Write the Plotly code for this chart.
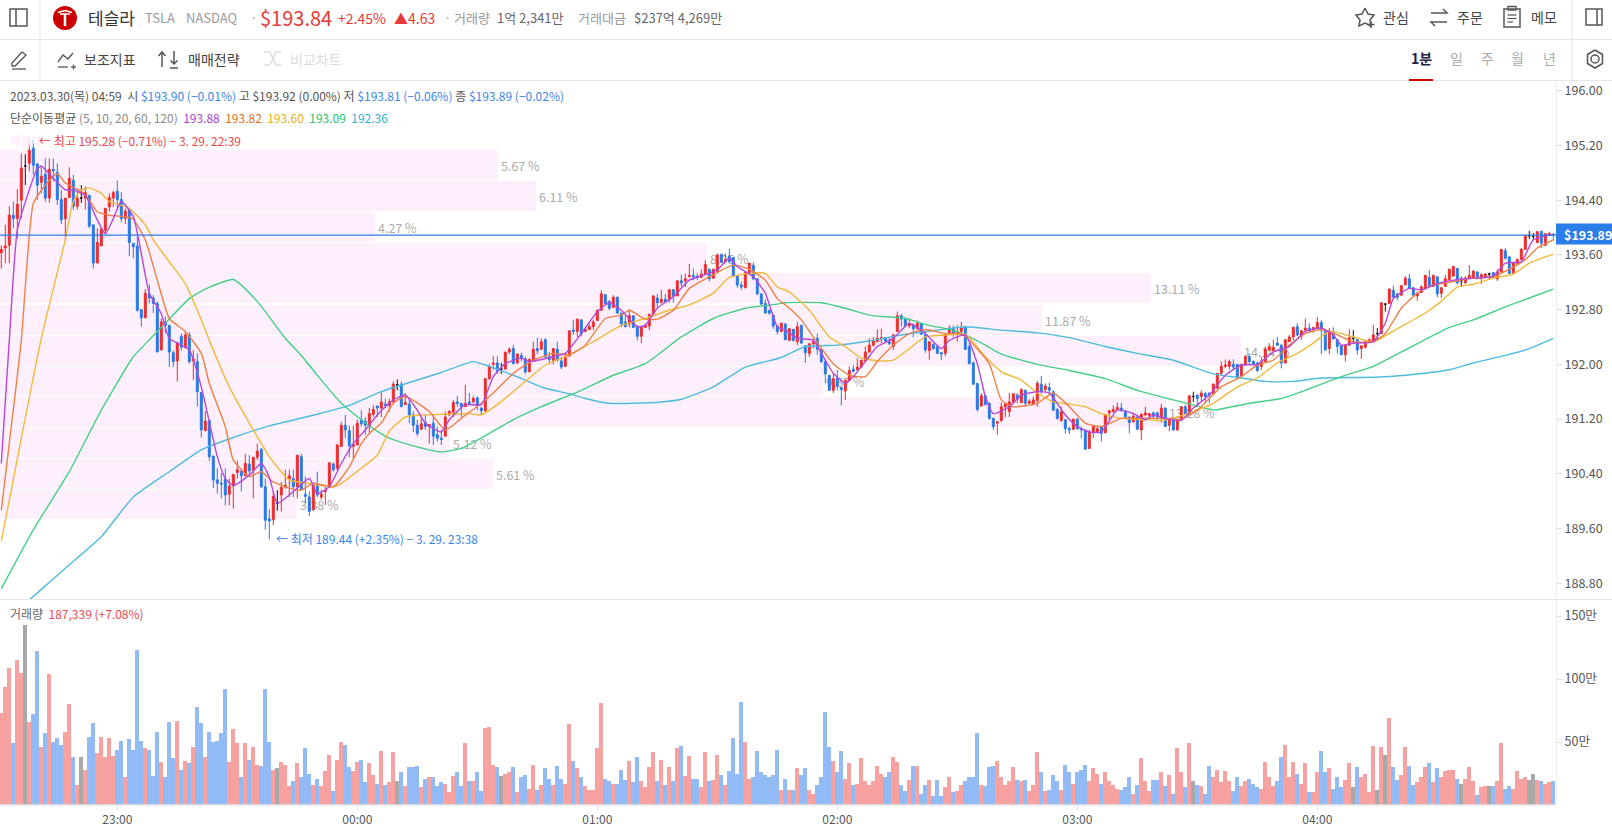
import pandas as pd
import plotly.graph_objects as go

FONT = "Noto Sans CJK KR"
W, H = 1612, 831
AXIS_X = 1556

# 1분봉 시/고/저/종, 22:31 ~ 04:59
opens = [193.63,193.70,193.74,194.18,194.13,194.40,194.90,194.94,195.16,194.93,
194.66,194.78,194.43,194.85,194.81,194.41,194.13,194.44,194.69,194.31,
194.43,194.43,194.47,194.04,193.48,193.73,193.96,194.30,194.43,194.53,
194.41,194.13,194.27,193.77,193.73,192.80,192.68,193.03,192.97,192.89,
192.21,192.62,192.57,192.17,192.05,192.41,192.25,192.43,192.05,192.04,
191.59,191.03,191.18,190.66,190.31,190.26,190.32,190.10,190.22,190.42,
190.44,190.37,190.54,190.45,190.64,190.76,190.21,189.74,189.73,189.97,
190.09,190.21,190.32,190.33,190.21,190.65,190.10,190.06,189.88,190.23,
190.06,190.14,190.20,190.54,190.48,190.80,191.11,191.03,190.80,190.82,
191.19,191.17,191.10,191.27,191.39,191.36,191.42,191.40,191.45,191.70,
191.71,191.41,191.42,191.26,191.11,191.05,191.15,191.09,191.14,190.97,
190.92,190.95,191.26,191.30,191.45,191.43,191.38,191.45,191.45,191.51,
191.36,191.32,191.79,192.00,192.02,191.93,191.93,192.18,192.23,192.02,
192.13,192.08,191.89,192.06,192.23,192.22,192.36,192.11,192.06,192.22,
192.05,191.97,192.12,192.50,192.48,192.65,192.48,192.51,192.55,192.64,
192.79,193.02,192.92,192.83,192.98,192.75,192.62,192.59,192.71,192.55,
192.41,192.54,192.56,192.74,192.97,192.90,192.95,192.95,193.09,193.00,
193.22,193.22,193.28,193.30,193.29,193.27,193.32,193.39,193.26,193.36,
193.61,193.50,193.58,193.56,193.29,193.16,193.12,193.33,193.45,193.25,
193.03,192.89,192.79,192.72,192.56,192.48,192.59,192.35,192.51,192.33,
192.57,192.27,192.16,192.30,192.38,192.22,192.04,191.84,191.62,191.80,
191.66,191.61,191.77,191.93,191.92,191.96,192.05,192.18,192.28,192.33,
192.37,192.39,192.33,192.26,192.48,192.71,192.66,192.56,192.57,192.52,
192.59,192.43,192.20,192.29,192.26,192.17,192.16,192.45,192.52,192.44,
192.48,192.55,192.26,192.02,191.72,191.39,191.54,191.43,191.21,191.14,
191.18,191.38,191.31,191.45,191.55,191.44,191.62,191.43,191.42,191.47,
191.71,191.63,191.66,191.60,191.34,191.18,191.19,191.06,191.05,191.20,
191.06,191.04,190.77,191.01,191.01,191.09,191.00,191.29,191.31,191.34,
191.36,191.31,191.23,191.16,191.23,191.04,191.26,191.25,191.29,191.29,
191.21,191.36,191.11,191.21,191.04,191.19,191.38,191.27,191.53,191.55,
191.53,191.57,191.58,191.57,191.65,191.87,191.97,191.97,192.00,192.00,
191.83,191.99,192.11,192.04,192.02,191.97,192.04,192.21,192.20,192.31,
192.28,192.02,192.33,192.40,192.55,192.41,192.50,192.53,192.51,192.53,
192.61,192.49,192.23,192.48,192.36,192.27,192.14,192.28,192.38,192.36,
192.23,192.25,192.32,192.33,192.45,192.45,192.88,192.89,193.08,193.03,
193.01,193.16,193.25,193.12,193.00,193.05,193.11,193.27,193.14,193.28,
193.04,193.14,193.24,193.29,193.40,193.22,193.19,193.26,193.26,193.35,
193.26,193.28,193.32,193.34,193.25,193.35,193.66,193.57,193.33,193.47,
193.53,193.68,193.88,193.87,193.78,193.94,193.74,193.89,193.90]

highs = [193.74,194.04,194.31,194.38,194.56,195.08,195.07,195.24,195.28,194.94,
194.89,195.01,195.01,195.01,194.94,194.55,194.43,194.88,194.77,194.55,
194.62,194.60,194.47,194.04,193.99,193.98,194.28,194.50,194.54,194.69,
194.52,194.28,194.28,193.77,193.87,192.80,193.10,193.17,193.01,192.92,
192.67,192.70,192.57,192.20,192.33,192.45,192.47,192.47,192.21,192.16,
191.59,191.32,191.18,190.66,190.48,190.41,190.48,190.33,190.39,190.59,
190.44,190.69,190.67,190.64,190.84,190.77,190.33,189.88,190.14,190.16,
190.28,190.46,190.46,190.46,190.67,190.69,190.36,190.14,190.28,190.43,
190.17,190.23,190.56,190.57,190.84,191.16,191.26,191.10,191.10,191.19,
191.33,191.23,191.36,191.40,191.40,191.60,191.50,191.50,191.75,191.78,
191.75,191.58,191.50,191.31,191.19,191.23,191.26,191.12,191.26,191.09,
191.04,191.31,191.33,191.48,191.54,191.43,191.70,191.58,191.54,191.53,
191.38,191.79,192.00,192.12,192.12,192.02,192.18,192.25,192.28,192.16,
192.17,192.11,192.09,192.33,192.39,192.38,192.38,192.18,192.23,192.33,
192.11,192.17,192.49,192.65,192.67,192.66,192.53,192.59,192.65,192.80,
193.08,193.02,192.94,193.01,192.99,192.75,192.72,192.80,192.72,192.57,
192.55,192.60,192.74,193.01,193.03,193.09,193.03,193.10,193.10,193.23,
193.31,193.33,193.47,193.40,193.33,193.39,193.52,193.40,193.40,193.62,
193.61,193.62,193.69,193.57,193.29,193.21,193.35,193.48,193.49,193.26,
193.03,192.95,192.80,192.72,192.57,192.61,192.60,192.53,192.52,192.62,
192.58,192.28,192.31,192.38,192.45,192.22,192.04,191.84,191.87,191.92,
191.66,191.77,191.97,191.99,192.09,192.06,192.26,192.38,192.40,192.51,
192.52,192.40,192.40,192.45,192.77,192.74,192.69,192.67,192.60,192.64,
192.60,192.48,192.33,192.31,192.26,192.18,192.44,192.57,192.57,192.57,
192.62,192.56,192.33,192.04,191.72,191.58,191.55,191.44,191.21,191.16,
191.44,191.43,191.58,191.57,191.58,191.65,191.63,191.49,191.53,191.76,
191.83,191.72,191.73,191.62,191.36,191.38,191.19,191.09,191.20,191.21,
191.09,191.05,191.04,191.10,191.09,191.09,191.27,191.33,191.40,191.44,
191.44,191.33,191.23,191.28,191.24,191.28,191.38,191.29,191.31,191.31,
191.42,191.37,191.20,191.22,191.20,191.39,191.41,191.54,191.60,191.56,
191.62,191.60,191.59,191.72,191.87,192.04,192.07,192.07,192.07,192.00,
192.00,192.14,192.16,192.06,192.04,192.11,192.26,192.31,192.36,192.40,
192.30,192.37,192.43,192.55,192.60,192.50,192.67,192.60,192.54,192.69,
192.65,192.51,192.53,192.54,192.37,192.28,192.28,192.51,192.50,192.37,
192.28,192.36,192.38,192.58,192.53,192.90,192.89,193.11,193.15,193.04,
193.16,193.29,193.32,193.13,193.05,193.16,193.31,193.38,193.31,193.29,
193.13,193.31,193.40,193.44,193.40,193.28,193.29,193.45,193.38,193.36,
193.33,193.33,193.34,193.35,193.39,193.68,193.70,193.58,193.50,193.55,
193.70,193.88,193.95,193.92,193.94,193.96,193.92,193.94,193.92]

lows = [193.40,193.48,193.48,193.99,193.84,194.13,194.62,194.82,194.77,194.40,
194.50,194.38,194.36,194.67,194.33,194.05,193.81,194.43,194.26,194.26,
194.36,194.26,193.99,193.40,193.48,193.73,193.91,194.23,194.30,194.28,
194.08,194.05,193.58,193.55,192.77,192.55,192.68,192.89,192.75,192.18,
192.21,192.45,191.96,191.96,191.75,192.20,192.23,192.01,191.77,191.38,
190.93,191.03,190.59,190.19,190.11,190.04,189.94,189.94,189.89,190.33,
190.14,190.37,190.36,190.04,190.60,190.19,189.58,189.44,189.65,189.86,
189.85,190.18,190.06,190.06,190.04,190.17,189.97,189.78,189.85,190.06,
190.02,189.94,190.20,190.43,190.45,190.80,190.92,190.64,190.62,190.82,
191.09,190.97,190.98,191.23,191.23,191.23,191.36,191.31,191.43,191.62,
191.38,191.41,191.14,191.01,190.95,191.04,191.04,190.84,190.82,190.87,
190.82,190.94,191.24,191.23,191.38,191.23,191.38,191.40,191.43,191.33,
191.26,191.31,191.77,191.92,191.86,191.86,191.92,192.15,192.00,192.01,
192.04,191.86,191.89,192.06,192.15,192.21,192.10,192.00,192.00,192.04,
191.93,191.97,192.12,192.43,192.40,192.41,192.48,192.50,192.50,192.64,
192.79,192.88,192.79,192.82,192.74,192.54,192.54,192.54,192.54,192.35,
192.31,192.53,192.50,192.74,192.82,192.90,192.90,192.90,192.90,193.00,
193.14,193.13,193.28,193.23,193.23,193.26,193.32,193.21,193.25,193.35,
193.49,193.49,193.49,193.28,193.12,193.09,193.11,193.32,193.23,193.01,
192.87,192.74,192.72,192.52,192.44,192.47,192.36,192.34,192.33,192.28,
192.30,192.02,192.11,192.23,192.14,192.02,191.72,191.61,191.58,191.62,
191.40,191.48,191.75,191.88,191.91,191.94,192.05,192.17,192.26,192.33,
192.31,192.31,192.28,192.21,192.48,192.55,192.54,192.53,192.40,192.51,
192.43,192.17,192.07,192.21,192.15,192.06,192.12,192.44,192.40,192.33,
192.46,192.21,192.00,191.70,191.31,191.38,191.40,191.19,191.04,190.97,
191.16,191.23,191.23,191.43,191.43,191.43,191.38,191.42,191.40,191.38,
191.57,191.60,191.57,191.32,191.19,191.16,190.99,190.98,191.04,191.04,
190.92,190.75,190.76,190.92,191.00,190.87,190.99,191.19,191.29,191.33,
191.31,191.22,190.99,191.15,191.04,190.89,191.24,191.19,191.20,191.18,
191.15,191.09,191.02,191.03,191.03,191.18,191.27,191.27,191.45,191.38,
191.46,191.44,191.43,191.55,191.65,191.84,191.94,191.92,191.92,191.78,
191.82,191.98,191.99,191.99,191.89,191.92,192.03,192.19,192.19,192.27,
191.94,192.01,192.33,192.35,192.41,192.36,192.48,192.48,192.46,192.53,
192.15,192.20,192.15,192.36,192.16,192.14,192.04,192.28,192.30,192.14,
192.08,192.23,192.31,192.33,192.35,192.44,192.77,192.88,192.97,192.94,
193.00,193.16,193.11,193.01,192.93,193.04,193.09,193.11,193.13,192.98,
192.97,193.13,193.23,193.28,193.17,193.13,193.18,193.25,193.25,193.24,
193.17,193.26,193.25,193.25,193.22,193.34,193.53,193.32,193.33,193.45,
193.53,193.68,193.83,193.82,193.77,193.70,193.73,193.88,193.81]

closes = [193.68,193.73,194.18,194.13,194.34,194.87,194.90,195.13,194.91,194.62,
194.75,194.43,194.85,194.83,194.41,194.11,194.43,194.72,194.31,194.43,
194.43,194.51,194.02,193.48,193.78,193.98,194.28,194.44,194.51,194.41,
194.13,194.24,193.78,193.72,192.79,192.68,193.04,192.97,192.89,192.18,
192.62,192.57,192.18,192.04,192.31,192.25,192.43,192.04,192.08,191.60,
191.04,191.17,190.65,190.31,190.26,190.25,190.09,190.22,190.39,190.46,
190.37,190.55,190.44,190.64,190.73,190.21,189.72,189.71,190.07,189.97,
190.20,190.23,190.37,190.21,190.67,190.17,190.07,189.85,190.23,190.09,
190.10,190.16,190.56,190.46,190.82,191.11,191.04,190.81,190.83,191.14,
191.13,191.11,191.28,191.34,191.36,191.45,191.40,191.45,191.71,191.70,
191.38,191.44,191.26,191.11,190.99,191.13,191.09,191.12,190.95,190.92,
190.90,191.23,191.31,191.44,191.43,191.38,191.43,191.43,191.50,191.40,
191.32,191.79,191.97,192.02,191.90,191.93,192.18,192.22,192.01,192.15,
192.09,191.89,192.07,192.22,192.20,192.33,192.11,192.07,192.23,192.06,
191.96,192.11,192.49,192.48,192.66,192.45,192.51,192.55,192.62,192.79,
193.03,192.89,192.82,192.98,192.75,192.59,192.55,192.71,192.54,192.41,
192.54,192.57,192.73,193.00,192.90,192.95,192.91,193.09,193.00,193.22,
193.19,193.25,193.30,193.28,193.27,193.32,193.46,193.25,193.39,193.60,
193.49,193.53,193.50,193.29,193.16,193.13,193.34,193.48,193.25,193.03,
192.88,192.75,192.75,192.56,192.48,192.60,192.36,192.52,192.35,192.55,
192.31,192.17,192.30,192.33,192.22,192.04,191.86,191.62,191.79,191.68,
191.63,191.77,191.91,191.90,191.96,192.06,192.18,192.28,192.34,192.38,
192.39,192.34,192.30,192.43,192.71,192.66,192.56,192.59,192.52,192.60,
192.44,192.21,192.33,192.23,192.16,192.15,192.43,192.53,192.45,192.48,
192.54,192.22,192.01,191.71,191.34,191.54,191.41,191.21,191.09,191.16,
191.38,191.42,191.45,191.57,191.49,191.63,191.43,191.46,191.48,191.72,
191.60,191.68,191.62,191.33,191.21,191.31,191.06,191.04,191.20,191.06,
191.04,190.76,191.01,191.09,191.06,190.99,191.27,191.32,191.34,191.37,
191.32,191.23,191.15,191.24,191.05,191.27,191.29,191.28,191.24,191.23,
191.36,191.09,191.19,191.04,191.19,191.38,191.28,191.54,191.53,191.50,
191.58,191.53,191.55,191.71,191.87,191.97,191.99,192.04,191.96,191.80,
192.00,192.11,192.04,192.00,191.91,192.04,192.22,192.26,192.25,192.28,
192.02,192.36,192.40,192.54,192.43,192.49,192.53,192.49,192.54,192.61,
192.50,192.21,192.49,192.37,192.26,192.14,192.28,192.39,192.38,192.21,
192.27,192.33,192.36,192.43,192.45,192.90,192.88,193.10,192.98,192.98,
193.15,193.26,193.11,193.01,193.04,193.13,193.30,193.15,193.30,193.03,
193.12,193.25,193.39,193.43,193.19,193.22,193.26,193.30,193.36,193.26,
193.31,193.32,193.32,193.27,193.35,193.68,193.55,193.33,193.48,193.53,
193.68,193.88,193.88,193.87,193.94,193.77,193.91,193.91,193.89]

# 거래량 (만 주)
volumes = [73,94,109,49,115,105,143,66,72,122,46,57,104,50,53,48,58,80,38,16,
38,28,54,65,41,54,38,53,39,44,51,22,52,44,123,51,45,44,23,58,
34,22,66,37,67,28,35,33,46,78,65,38,58,50,51,57,92,34,60,49,
22,49,36,46,32,31,92,50,28,29,34,32,15,19,33,22,45,25,16,21,
15,27,40,11,36,50,48,30,27,34,36,18,33,24,17,43,16,18,42,19,
26,15,30,30,31,14,21,22,22,15,18,17,10,23,26,15,49,19,19,26,
11,61,62,32,30,23,25,26,30,10,22,24,13,32,12,16,29,21,16,31,
21,17,64,35,29,22,15,12,12,45,81,21,19,17,17,28,20,35,18,38,
19,14,30,42,19,36,16,30,19,45,47,23,39,21,21,14,42,19,20,40,
24,16,27,53,25,82,50,21,22,43,26,24,22,24,44,12,21,12,12,29,
24,29,12,9,16,22,74,46,35,26,43,21,33,16,17,37,19,16,19,31,
25,22,26,38,34,16,11,20,31,31,9,16,20,7,20,7,14,22,10,11,
16,19,22,22,57,16,15,30,31,35,22,16,19,30,20,19,20,11,16,42,
26,11,12,24,19,12,32,26,17,26,28,32,19,29,25,17,26,19,16,13,
12,14,22,9,16,37,19,11,20,20,26,15,24,9,45,26,14,49,19,16,
15,9,31,22,28,18,27,19,11,22,15,19,21,17,14,13,34,22,15,19,
38,48,22,34,25,17,33,10,10,26,43,26,29,13,22,14,20,33,14,30,
22,25,10,47,12,46,40,69,30,20,24,46,31,16,18,22,30,33,18,29,
22,27,28,28,21,17,21,30,19,8,14,15,15,15,19,49,13,15,13,27,
21,22,20,25,20,19,17,18,19]

# 이동평균선: 눈으로 읽은 지점 (봉 번호, 가격)
ma5_idx = [0,2,4,7,9,10,13,16,18,21,24,26,28,30,33,35,37,40,42,47,50,52,54,56,58,62,65,67,69,72,74,77,79,82,85,88,91,94,
98,101,104,106,110,112,116,120,123,126,130,132,138,141,145,149,152,155,159,161,164,168,172,176,179,182,184,188,191,194,
196,199,203,206,208,211,213,216,219,223,227,231,235,237,241,244,246,248,252,255,259,262,266,269,272,275,279,283,286,288,291,295,298,302,306,310,314,318,322,326,330,333,335,338,343,346,348,352,355,359,363,368,373,376,380,383,388]
ma5_val = [190.55,192.35,193.96,194.55,194.86,194.90,194.72,194.55,194.55,194.47,194.11,193.91,194.13,194.38,194.16,193.62,193.04,192.74,192.38,192.21,191.67,191.16,190.65,190.33,190.23,190.38,190.55,190.35,189.97,190.09,190.19,190.33,190.11,190.21,190.55,190.84,191.04,191.26,
191.48,191.55,191.33,191.14,191.01,191.19,191.41,191.41,191.82,192.01,192.09,192.04,192.11,192.16,192.45,192.77,192.90,192.79,192.55,192.57,192.82,192.99,193.23,193.31,193.38,193.55,193.43,193.28,193.04,192.55,
192.50,192.38,192.35,192.06,191.87,191.72,191.82,192.04,192.26,192.38,192.60,192.45,192.23,192.35,192.43,192.01,191.53,191.28,191.38,191.55,191.60,191.58,191.26,191.09,191.01,191.01,191.33,191.28,191.19,191.26,191.21,191.18,191.36,191.55,191.84,191.99,192.00,192.18,192.26,192.48,192.53,192.43,192.28,192.31,192.33,192.60,192.96,193.11,193.09,193.18,193.23,193.26,193.29,193.48,193.50,193.82,193.90]

ma10_idx = [0,5,8,11,14,16,20,22,24,27,32,33,36,39,42,46,50,52,56,58,62,65,68,72,75,78,83,87,90,92,95,98,101,107,111,115,120,123,128,133,138,142,146,151,155,157,161,164,168,172,178,183,187,191,194,
196,200,203,208,212,216,219,223,227,231,236,240,242,247,250,253,259,263,267,271,275,280,284,290,295,299,305,310,314,318,322,326,330,334,338,343,346,350,354,358,363,368,373,377,381,384,388]
ma10_val = [189.87,192.35,194.35,194.62,194.79,194.65,194.53,194.40,194.23,194.18,194.15,194.12,193.82,193.23,192.67,192.48,192.16,191.72,191.09,190.60,190.36,190.43,190.28,190.19,190.16,190.26,190.21,190.50,190.84,190.99,191.14,191.43,191.53,191.31,191.04,191.21,191.43,191.58,191.87,192.06,192.16,192.14,192.28,192.67,192.72,192.79,192.66,192.66,192.79,193.11,193.31,193.45,193.39,193.23,192.96,
192.87,192.65,192.40,192.01,191.84,191.82,192.04,192.28,192.45,192.51,192.45,192.45,192.35,192.01,191.48,191.38,191.43,191.58,191.38,191.14,191.09,191.21,191.21,191.21,191.20,191.33,191.67,191.82,191.99,192.06,192.28,192.45,192.51,192.43,192.33,192.33,192.45,192.82,193.04,193.16,193.21,193.26,193.28,193.39,193.53,193.70,193.82]

ma20_idx = [0,10,16,18,20,22,25,27,32,36,38,42,46,50,52,57,63,67,72,78,83,85,90,94,97,101,105,111,117,120,124,131,136,141,148,155,161,167,172,178,182,187,191,194,
197,202,207,211,215,220,223,227,231,237,241,246,250,255,259,263,267,271,275,280,286,290,294,299,303,309,314,319,324,328,332,338,343,349,356,360,364,368,373,378,382,388]
ma20_val = [189.41,192.38,193.82,194.38,194.55,194.58,194.50,194.38,194.28,194.04,193.82,193.50,193.18,192.65,192.35,191.67,191.04,190.65,190.31,190.25,190.21,190.26,190.48,190.67,191.02,191.23,191.26,191.27,191.28,191.26,191.41,191.75,191.99,192.11,192.33,192.57,192.67,192.79,192.87,193.04,193.27,193.33,193.33,193.13,
193.06,192.79,192.40,192.26,192.09,192.05,192.06,192.23,192.40,192.43,192.44,192.11,191.89,191.77,191.58,191.45,191.42,191.38,191.28,191.21,191.19,191.18,191.23,191.33,191.43,191.67,191.80,192.02,192.16,192.31,192.48,192.40,192.33,192.52,192.75,192.92,193.13,193.17,193.26,193.32,193.48,193.61]

ma60_idx = [0,8,17,25,33,37,41,47,51,58,64,71,75,79,85,92,97,101,107,110,115,122,128,135,145,153,161,170,178,186,194,196,205,211,217,226,232,237,241,246,250,259,267,276,284,293,301,303,312,320,326,335,343,351,362,368,376,382,388]
ma60_val = [188.72,189.58,190.43,191.33,192.11,192.36,192.60,192.96,193.10,193.24,192.92,192.38,192.13,191.84,191.43,191.10,190.92,190.84,190.75,190.72,190.77,190.99,191.19,191.38,191.62,191.84,192.01,192.40,192.67,192.82,192.88,192.90,192.90,192.82,192.72,192.67,192.57,192.51,192.43,192.28,192.15,192.00,191.91,191.79,191.62,191.48,191.36,191.33,191.43,191.50,191.62,191.82,191.97,192.21,192.54,192.65,192.84,192.97,193.10]

ma120_idx = [5,10,17,25,33,42,50,58,67,79,87,95,110,118,122,128,136,142,146,152,158,165,170,178,186,195,201,209,217,226,234,241,250,259,267,276,284,293,303,310,316,323,330,343,351,362,368,376,382,388]
ma120_val = [188.45,188.71,189.07,189.48,190.06,190.43,190.75,190.93,191.10,191.27,191.40,191.60,191.88,192.04,191.97,191.84,191.65,191.57,191.50,191.43,191.43,191.45,191.49,191.67,191.96,192.10,192.26,192.28,192.34,192.44,192.50,192.55,192.50,192.46,192.39,192.26,192.16,192.06,191.86,191.80,191.75,191.75,191.80,191.81,191.84,191.92,192.02,192.13,192.23,192.38]

# 매물대 (가격대 중심, 비율 %)
band_prices = [194.91,194.46,194.01,193.56,193.11,192.65,192.20,191.75,191.30,190.85,190.40,189.95]
band_pcts = [5.67,6.11,4.27,8.05,13.11,11.87,14.14,9.37,13.28,5.12,5.61,3.38]
band_labels = ["5.67 %","6.11 %","4.27 %","8.05 %","13.11 %","11.87 %","14.14 %","9.37 %","13.28 %","5.12 %","5.61 %","3.38 %"]

price_ticks = [196.0,195.2,194.4,193.6,192.8,192.0,191.2,190.4,189.6,188.8]
vol_ticks = [50,100,150]
vol_tick_labels = ["50만","100만","150만"]
time_ticks = ["2023-03-29 23:00","2023-03-30 00:00","2023-03-30 01:00","2023-03-30 02:00","2023-03-30 03:00","2023-03-30 04:00"]
time_tick_labels = ["23:00","00:00","01:00","02:00","03:00","04:00"]

df = pd.DataFrame({"open": opens, "high": highs, "low": lows, "close": closes, "vol": volumes})
df["time"] = pd.date_range("2023-03-29 22:31", periods=len(df), freq="min")
times = df["time"]
doji = df[df["open"] == df["close"]]
body = df[df["open"] != df["close"]]

RED, BLUE = "#ee2b2b", "#2878e6"
VOL_RED, VOL_BLUE, VOL_GRAY = "#f7a1a1", "#92bbf5", "#a8a8a8"
vol_colors = [VOL_RED if c > o else VOL_BLUE if c < o else VOL_GRAY for o, c in zip(opens, closes)]

fig = go.Figure()

# 매물대는 맨 아래 축에
fig.add_trace(go.Bar(x=band_pcts, y=band_prices, orientation="h", width=0.436, xaxis="x3", yaxis="y",
                     marker=dict(color="#fdf0fc", line_width=0), text=band_labels, textposition="outside",
                     cliponaxis=False, constraintext="none",
                     textfont=dict(color="#ababab", size=12.5, family=FONT)))

fig.add_trace(go.Candlestick(x=body["time"], open=body["open"], high=body["high"], low=body["low"], close=body["close"],
                             increasing=dict(line=dict(color=RED, width=1), fillcolor=RED),
                             decreasing=dict(line=dict(color=BLUE, width=1), fillcolor=BLUE),
                             whiskerwidth=0, xaxis="x", yaxis="y"))
fig.add_trace(go.Candlestick(x=doji["time"], open=doji["open"], high=doji["high"], low=doji["low"], close=doji["close"],
                             increasing=dict(line=dict(color="#111111", width=1), fillcolor="#111111"),
                             decreasing=dict(line=dict(color="#111111", width=1), fillcolor="#111111"),
                             whiskerwidth=0, xaxis="x", yaxis="y"))

for idx, val, col in [(ma120_idx, ma120_val, "#4dbcdc"), (ma60_idx, ma60_val, "#45cf86"), (ma20_idx, ma20_val, "#f0b93a"),
                      (ma10_idx, ma10_val, "#ee8046"), (ma5_idx, ma5_val, "#b548da")]:
    fig.add_trace(go.Scatter(x=times.iloc[idx], y=val, mode="lines", xaxis="x", yaxis="y",
                             line=dict(color=col, width=1.4, shape="spline", smoothing=0.5)))

fig.add_trace(go.Bar(x=df["time"], y=df["vol"], marker=dict(color=vol_colors, line_width=0), xaxis="x2", yaxis="y2"))


def px(x):
    return x / W


def py(y):
    return 1 - y / H


def note(x, y, text, size=13, color="#555555", anchor="left"):
    fig.add_annotation(xref="paper", yref="paper", x=px(x), y=py(y), text=text, showarrow=False,
                       xanchor=anchor, yanchor="middle", font=dict(family=FONT, size=size, color=color))


def line(points, color="#555555", width=1.5, fill=None):
    path = "M" + " L".join(f"{px(x):.5f},{py(y):.5f}" for x, y in points)
    if fill:
        path += " Z"
    fig.add_shape(type="path", xref="paper", yref="paper", path=path, fillcolor=fill,
                  line=dict(color=color, width=width))


def box(x0, y0, x1, y1, color="#555555", width=1.5, fill=None, kind="rect"):
    fig.add_shape(type=kind, xref="paper", yref="paper", x0=px(x0), x1=px(x1), y0=py(y0), y1=py(y1),
                  fillcolor=fill, line=dict(color=color, width=width))


# 구분선
line([(0, 39.5), (W, 39.5)], "#e6e6e6", 1)
line([(0, 80.5), (W, 80.5)], "#e6e6e6", 1)
line([(0, 599.5), (W, 599.5)], "#e6e6e6", 1)
line([(40, 0), (40, 80)], "#e6e6e6", 1)
line([(1572, 0), (1572, 80)], "#e6e6e6", 1)
line([(0, 805), (AXIS_X, 805)], "#e6e6e6", 1.5)

# 현재가 선과 태그
fig.add_shape(type="line", xref="paper", yref="y", x0=0, x1=px(AXIS_X), y0=193.89, y1=193.89,
              line=dict(color="#2b7de9", width=1.3))
box(AXIS_X, 223.5, W, 244.5, "#2b7de9", 0, "#2b7de9")
note(1562, 234, "<b>$193.89</b>", 12.5, "#ffffff")

# 윗줄
box(10, 9, 27, 26)
line([(16, 9), (16, 26)])
box(53, 6, 77, 30, "#cc0000", 0, "#cc0000", "circle")
line([(58, 12.5), (65, 10.5), (72, 12.5)], "#ffffff", 1.5)
line([(60, 14), (70, 14)], "#ffffff", 1.5)
line([(65, 14), (65, 26)], "#ffffff", 2.5)
note(86, 18, "테슬라", 17, "#333333")
note(143, 18, "TSLA", 13, "#9a9a9a")
note(183.5, 18, "NASDAQ", 13, "#9a9a9a")
note(248, 18, "·", 13, "#9a9a9a")
note(258, 18, "$193.84", 20, "#e63a3a")
note(336, 18, "+2.45%", 14, "#e63a3a")
note(392, 18, "▲4.63", 14, "#e63a3a")
note(442, 18, "·", 13, "#9a9a9a")
note(452, 18, "거래량", 13, "#9a9a9a")
note(495, 18, "1억 2,341만", 13, "#666666")
note(576, 18, "거래대금", 13, "#9a9a9a")
note(632, 18, "$237억 4,269만", 13, "#666666")

line([(1365, 8), (1368, 14), (1374, 15), (1370, 20), (1371, 26), (1365, 23), (1359, 26), (1360, 20), (1356, 15), (1362, 14), (1365, 8)])
line([(1371, 21), (1371, 28)])
line([(1367.5, 24.5), (1374.5, 24.5)])
note(1381, 17, "관심", 14, "#444444")
line([(1431, 13), (1447, 13), (1443, 9)])
line([(1447, 22), (1431, 22), (1435, 26)])
note(1455, 17, "주문", 14, "#444444")
box(1504, 9, 1520, 27)
box(1508, 6.5, 1516, 10, "#555555", 1.3)
line([(1507.5, 15), (1516.5, 15)], "#555555", 1.2)
line([(1507.5, 18.5), (1516.5, 18.5)], "#555555", 1.2)
line([(1507.5, 22), (1513, 22)], "#555555", 1.2)
note(1529, 17, "메모", 14, "#444444")
box(1586, 9, 1602, 25)
line([(1597, 9), (1597, 25)])

# 둘째 줄
line([(22, 52), (26, 55), (15, 66), (12, 66), (12, 63), (22, 52)], "#555555", 1.3)
line([(12, 69), (26, 69)], "#555555", 1.3)
line([(58, 62), (63, 55), (68, 59), (73, 53)], "#555555", 1.3)
line([(58, 67), (68, 67)], "#555555", 1.3)
line([(71, 67), (76, 67)], "#555555", 1.3)
line([(73.5, 64.5), (73.5, 69.5)], "#555555", 1.3)
note(82, 59, "보조지표", 14, "#444444")
line([(162, 67), (162, 52)], "#555555", 1.5)
line([(158.5, 56), (162, 52), (165.5, 56)], "#555555", 1.5)
line([(174, 51), (174, 64)], "#555555", 1.5)
line([(170.5, 60.5), (174, 64), (177.5, 60.5)], "#555555", 1.5)
line([(170, 68), (178, 68)], "#555555", 1.5)
note(185.5, 59, "매매전략", 14, "#444444")
line([(264, 52), (270, 52), (276, 65), (281, 65)], "#dddddd", 1.5)
line([(264, 65), (270, 65), (276, 52), (281, 52)], "#dddddd", 1.5)
note(288, 59, "비교차트", 14, "#dcdcdc")
note(1409, 58, "<b>1분</b>", 14, "#222244")
line([(1409, 80), (1433, 80)], "#d40000", 2)
for cx, label in [(1456.5, "일"), (1487, "주"), (1517.5, "월"), (1549, "년")]:
    note(cx, 58, label, 14, "#aaaaaa", "center")
line([(1595, 50), (1602.5, 54.5), (1602.5, 63.5), (1595, 68), (1587.5, 63.5), (1587.5, 54.5), (1595, 50)])
box(1591, 55, 1599, 63, kind="circle")

# 시세 정보
B, G, D = "#3b86e8", "#8a8a8a", "#555555"
note(7.5, 96, f"<span style='color:{D}'>2023.03.30(목) 04:59  시 </span><span style='color:{B}'>$193.90 (−0.01%) </span>"
              f"<span style='color:{D}'>고 $193.92 (0.00%) 저 </span><span style='color:{B}'>$193.81 (−0.06%) </span>"
              f"<span style='color:{D}'>종 </span><span style='color:{B}'>$193.89 (−0.02%)</span>", 12)
note(7.5, 117, f"<span style='color:{D}'>단순이동평균 </span><span style='color:{G}'>(5, 10, 20, 60, 120)  </span>"
               "<span style='color:#a93fd6'>193.88</span>  <span style='color:#e9681f'>193.82</span>  "
               "<span style='color:#e5ae14'>193.60</span>  <span style='color:#1fc46c'>193.09</span>  "
               "<span style='color:#27b1d5'>192.36</span>", 12)
note(7.5, 140, "매물대", 12, "#fde6fa")
note(37, 140, "← 최고 195.28 (−0.71%) − 3. 29. 22:39", 12, "#f0484c")
note(274, 538, "← 최저 189.44 (+2.35%) − 3. 29. 23:38", 12, "#3b86e8")
note(7.5, 613, "<span style='color:#666666'>거래량</span>  <span style='color:#f0484c'>187,339 (+7.08%)</span>", 12)

x_range = ["2023-03-29 22:30:40.5", "2023-03-30 04:59:40.5"]
x_domain = [0, AXIS_X / W]
fig.update_layout(
    width=W, height=H, margin=dict(l=0, r=0, t=0, b=0), showlegend=False,
    paper_bgcolor="white", plot_bgcolor="white", bargap=0, boxgap=0.3, hovermode=False,
    font=dict(family=FONT, size=12, color="#555555"),
    xaxis3=dict(domain=x_domain, range=[0, AXIS_X / 87.8], visible=False, anchor="y"),
    xaxis=dict(domain=x_domain, range=x_range, overlaying="x3", anchor="y", visible=False, rangeslider_visible=False),
    xaxis2=dict(domain=x_domain, range=x_range, anchor="y2", tickvals=time_ticks, ticktext=time_tick_labels,
                ticks="outside", ticklen=4, tickcolor="#dddddd", showgrid=False, zeroline=False, showline=False,
                tickfont=dict(size=12, color="#555555")),
    yaxis=dict(domain=[py(599), py(81)], range=[188.569, 196.142], side="right", anchor="x3", showgrid=False,
               zeroline=False, showline=True, linecolor="#eeeeee", position=AXIS_X / W,
               tickvals=price_ticks, tickformat=".2f", tickprefix="$", ticks="outside", ticklen=5, tickcolor="#dddddd",
               tickfont=dict(size=12.5, color="#555555")),
    yaxis2=dict(domain=[py(805), py(600)], range=[0, 162.7], side="right", anchor="x2", showgrid=False,
                zeroline=False, showline=True, linecolor="#eeeeee",
                tickvals=vol_ticks, ticktext=vol_tick_labels, ticks="outside", ticklen=5, tickcolor="#dddddd",
                tickfont=dict(size=12.5, color="#555555")),
)

print(len(opens), len(highs), len(lows), len(closes), len(volumes))
print(len(ma5_idx), len(ma5_val), len(ma10_idx), len(ma10_val), len(ma20_idx), len(ma20_val),
      len(ma60_idx), len(ma60_val), len(ma120_idx), len(ma120_val))

fig.write_html("out.html", config={"displayModeBar": False},
               post_script="document.body.style.margin='0';document.body.style.overflow='hidden';")
